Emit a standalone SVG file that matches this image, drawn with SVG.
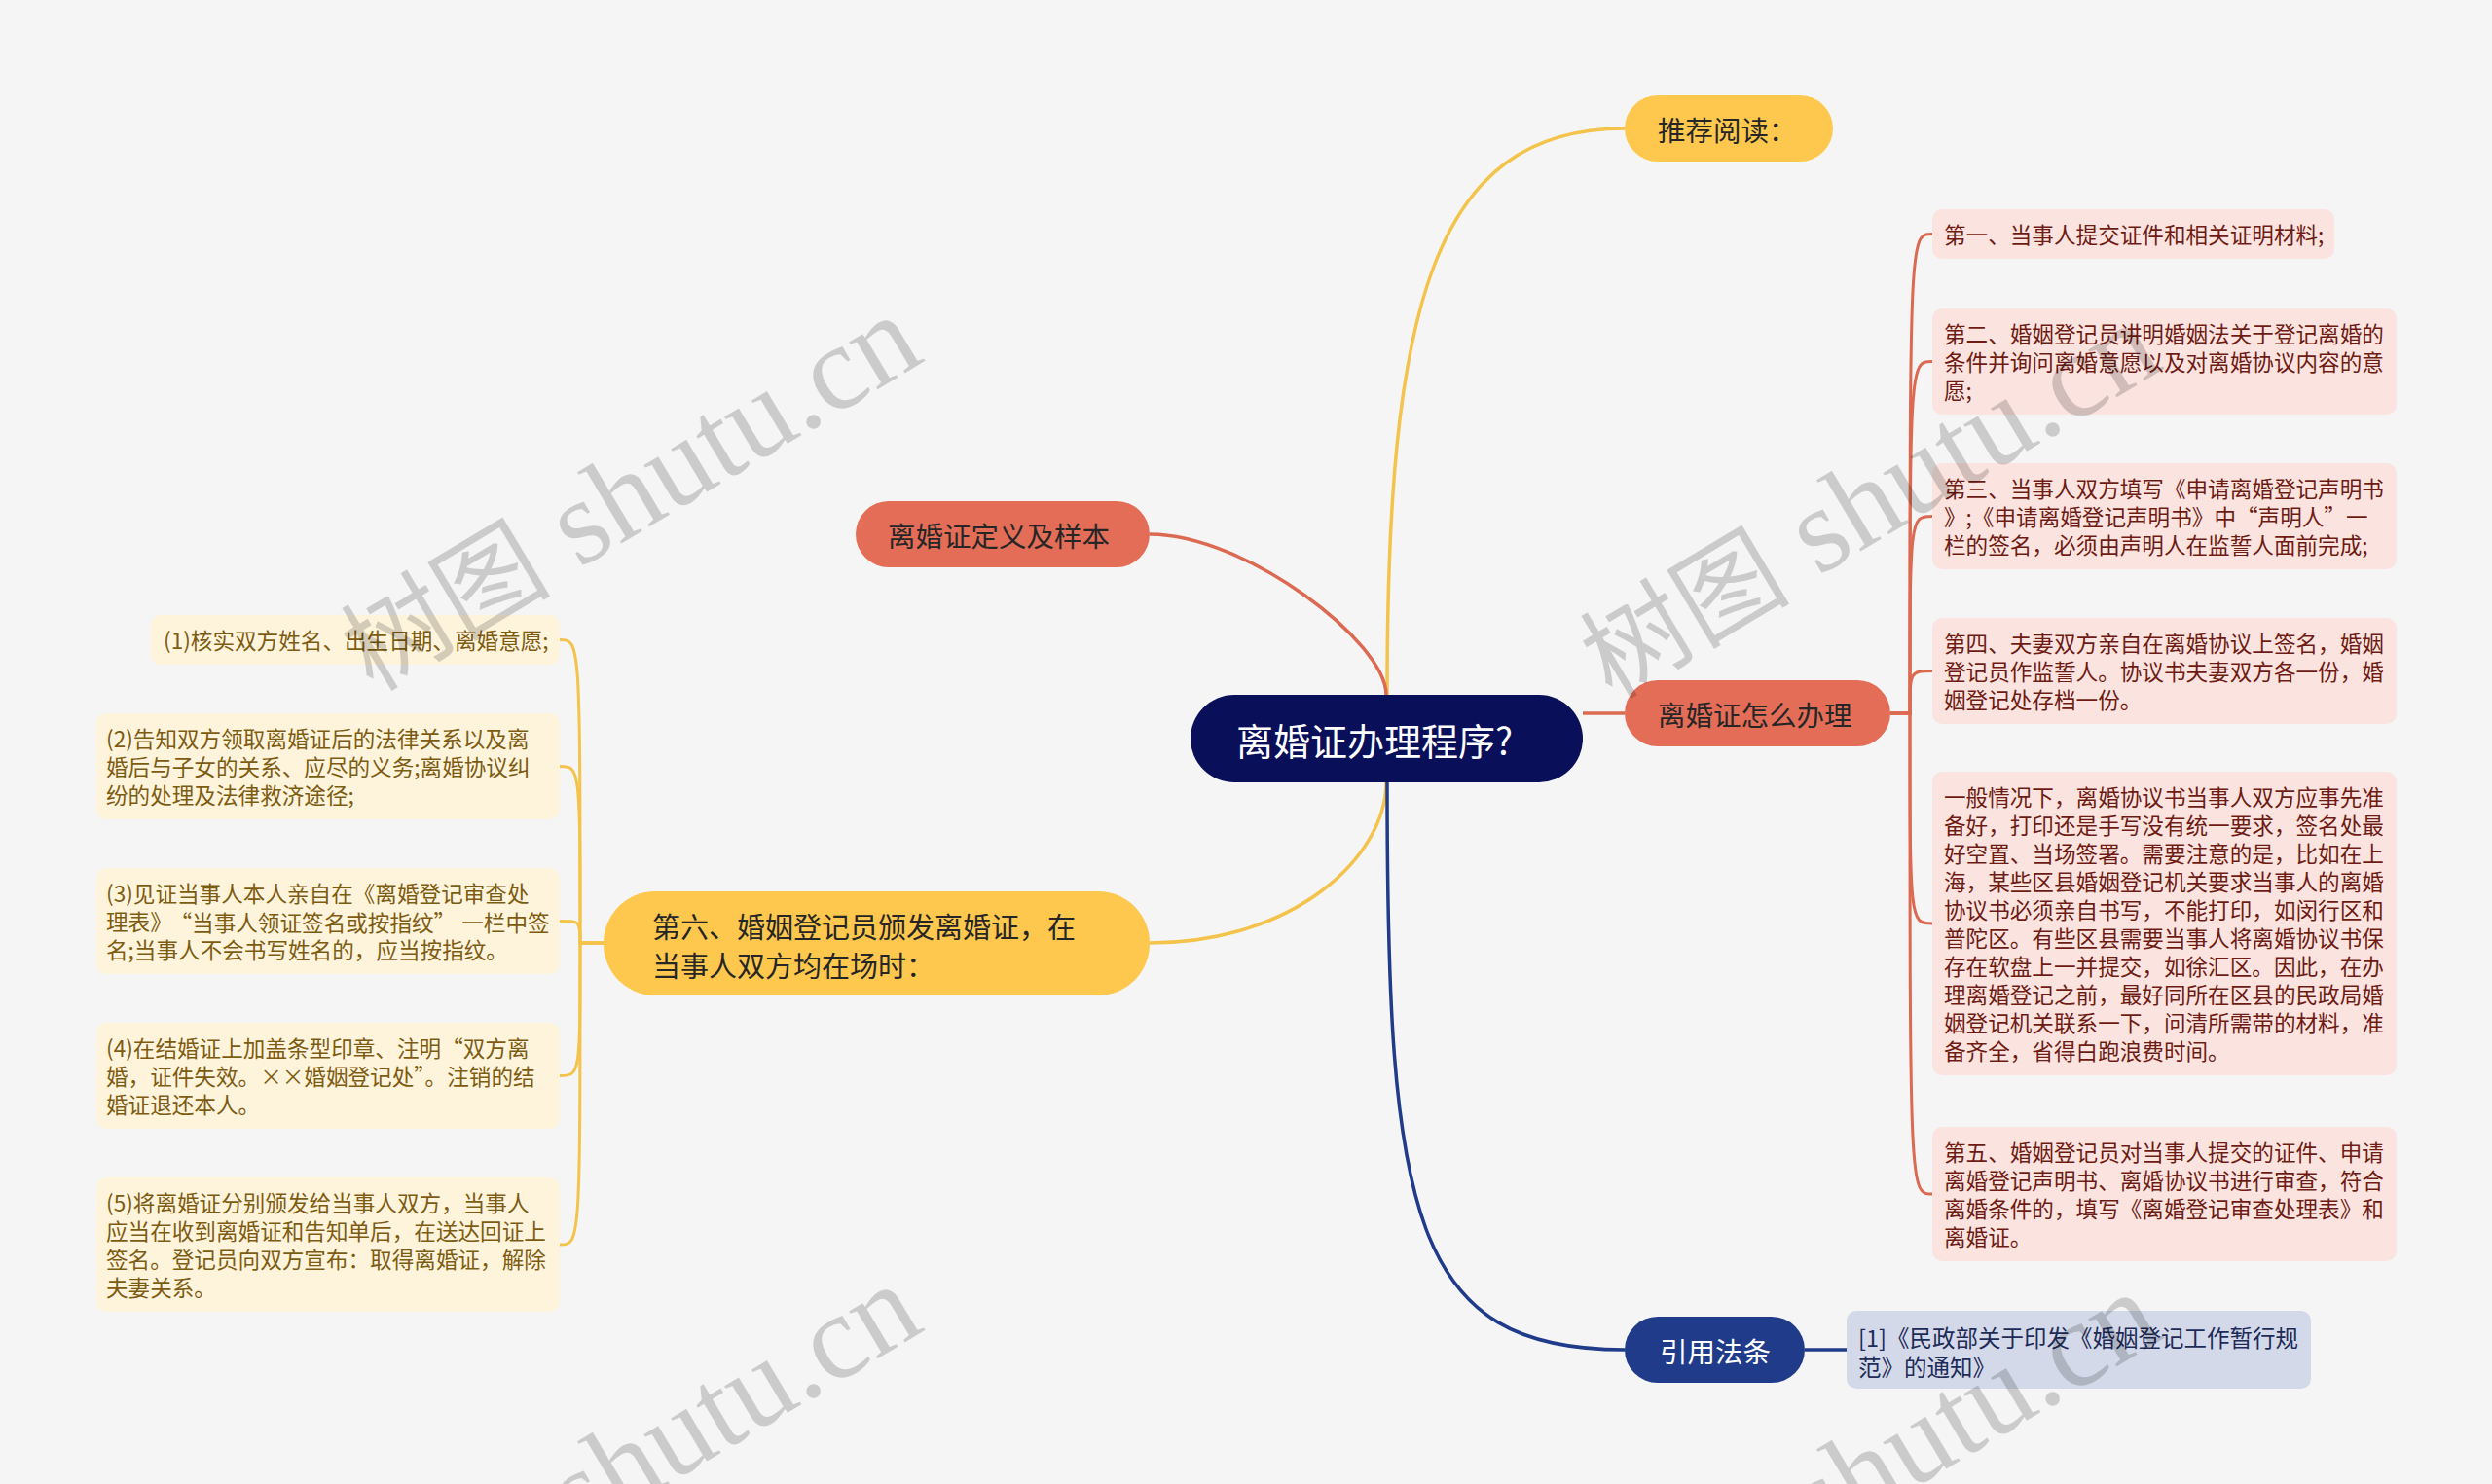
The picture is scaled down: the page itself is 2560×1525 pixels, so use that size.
<svg xmlns="http://www.w3.org/2000/svg" width="2560" height="1525" viewBox="0 0 2560 1525">
<style>
text{font-family:"Noto Sans CJK SC","Liberation Sans",sans-serif;dominant-baseline:central}
.pill-y{fill:#fdc84d}
.pill-r{fill:#e36d57}
.pill-b{fill:#1f3b8a}
.pt{font-size:28.5px;fill:#262626}
.leaf-r{fill:#fbe4df}
.lt-r{font-size:22.6px;fill:#6e1b14}
.leaf-y{fill:#fef4dc}
.lt-y{font-size:22.6px;fill:#7d5c12}
.c-y{fill:none;stroke:#f4c34b;stroke-width:3.5}
.c-r{fill:none;stroke:#dc6a52;stroke-width:3.5}
.c-b{fill:none;stroke:#1f3b8a;stroke-width:3.5}
.l-r{fill:none;stroke:#dc6a52;stroke-width:3}
.l-y{fill:none;stroke:#f4c34b;stroke-width:3}
.wm{font-family:"Liberation Serif","Noto Sans CJK SC",serif;fill:#000;fill-opacity:0.17;dominant-baseline:alphabetic}
.wc{font-size:108px}
.wl{font-size:124px}
</style>
<rect x="0" y="0" width="2560" height="1525" fill="#f5f5f5"/>

<g id="connectors">
  <path class="c-y" d="M1425 714 C1425 320 1470 132 1669 132"/>
  <path class="c-r" d="M1181 549 C1280 549 1424 660 1424 714"/>
  <path class="c-y" d="M1424 804 C1424 880 1330 969 1181 969"/>
  <path class="c-b" d="M1425 804 C1425 1250 1450 1387 1669 1387"/>
  <path class="c-r" d="M1626 733 L1669 733"/>
  <path class="c-b" d="M1854 1387 L1897 1387"/>
  <path class="l-r" d="M1942 733 L1962 733 C1962 240.5 1962 240.5 1985 240.5"/>
  <path class="l-r" d="M1942 733 L1962 733 C1962 371.5 1962 371.5 1985 371.5"/>
  <path class="l-r" d="M1942 733 L1962 733 C1962 530.5 1962 530.5 1985 530.5"/>
  <path class="l-r" d="M1942 733 L1962 733 C1962 689.5 1962 689.5 1985 689.5"/>
  <path class="l-r" d="M1942 733 L1962 733 C1962 949 1962 949 1985 949"/>
  <path class="l-r" d="M1942 733 L1962 733 C1962 1227 1962 1227 1985 1227"/>
  <path class="l-y" d="M620 969 L596 969 C596 657.5 596 657.5 575 657.5"/>
  <path class="l-y" d="M620 969 L596 969 C596 787.5 596 787.5 575 787.5"/>
  <path class="l-y" d="M620 969 L596 969 C596 946.5 596 946.5 575 946.5"/>
  <path class="l-y" d="M620 969 L596 969 C596 1105.5 596 1105.5 575 1105.5"/>
  <path class="l-y" d="M620 969 L596 969 C596 1279 596 1279 575 1279"/>
</g>

<g id="root">
  <rect x="1223" y="714" width="403" height="90" rx="45" fill="#0a0f59"/>
  <text x="1270" y="759" font-size="38" fill="#ffffff">离婚证办理程序?</text>
</g>

<g id="n-tuijian">
  <rect class="pill-y" x="1669" y="98" width="214" height="68" rx="34"/>
  <text class="pt" x="1703" y="132">推荐阅读：</text>
</g>

<g id="n-banli">
  <rect class="pill-r" x="1669" y="699" width="273" height="68" rx="34"/>
  <text class="pt" x="1703" y="733">离婚证怎么办理</text>
</g>

<g id="n-yinyong">
  <rect class="pill-b" x="1669" y="1353" width="185" height="68" rx="34"/>
  <text class="pt" x="1705" y="1387" style="fill:#ffffff">引用法条</text>
</g>

<g id="n-yinyong-ref">
  <rect x="1897" y="1347" width="477" height="80" rx="10" fill="#d3d9e8"/>
  <text x="1909" y="1374" font-size="23.5" fill="#1d2b58">[1]《民政部关于印发《婚姻登记工作暂行规</text>
  <text x="1909" y="1404" font-size="23.5" fill="#1d2b58">范》的通知》</text>
</g>

<g id="n-dingyi">
  <rect class="pill-r" x="879" y="515" width="302" height="68" rx="34"/>
  <text class="pt" x="912" y="549">离婚证定义及样本</text>
</g>

<g id="n-diliu">
  <rect class="pill-y" x="620" y="916" width="561" height="107" rx="53"/>
  <text x="670" y="951" font-size="29" fill="#262626">第六、婚姻登记员颁发离婚证，在</text>
  <text x="670" y="991" font-size="29" fill="#262626">当事人双方均在场时：</text>
</g>

<g id="r1">
  <rect class="leaf-r" x="1985" y="215" width="413" height="51" rx="10"/>
  <text class="lt-r" x="1997" y="240.5">第一、当事人提交证件和相关证明材料;</text>
</g>
<g id="r2">
  <rect class="leaf-r" x="1985" y="317" width="477" height="109" rx="10"/>
  <text class="lt-r" x="1997" y="342.5">第二、婚姻登记员讲明婚姻法关于登记离婚的</text>
  <text class="lt-r" x="1997" y="371.5">条件并询问离婚意愿以及对离婚协议内容的意</text>
  <text class="lt-r" x="1997" y="400.5">愿;</text>
</g>
<g id="r3">
  <rect class="leaf-r" x="1985" y="476" width="477" height="109" rx="10"/>
  <text class="lt-r" x="1997" y="501.5">第三、当事人双方填写《申请离婚登记声明书</text>
  <text class="lt-r" x="1997" y="530.5">》;《申请离婚登记声明书》中“声明人”一</text>
  <text class="lt-r" x="1997" y="559.5">栏的签名，必须由声明人在监誓人面前完成;</text>
</g>
<g id="r4">
  <rect class="leaf-r" x="1985" y="635" width="477" height="109" rx="10"/>
  <text class="lt-r" x="1997" y="660.5">第四、夫妻双方亲自在离婚协议上签名，婚姻</text>
  <text class="lt-r" x="1997" y="689.5">登记员作监誓人。协议书夫妻双方各一份，婚</text>
  <text class="lt-r" x="1997" y="718.5">姻登记处存档一份。</text>
</g>
<g id="r5">
  <rect class="leaf-r" x="1985" y="793" width="477" height="312" rx="10"/>
  <text class="lt-r" x="1997" y="818.5">一般情况下，离婚协议书当事人双方应事先准</text>
  <text class="lt-r" x="1997" y="847.5">备好，打印还是手写没有统一要求，签名处最</text>
  <text class="lt-r" x="1997" y="876.5">好空置、当场签署。需要注意的是，比如在上</text>
  <text class="lt-r" x="1997" y="905.5">海，某些区县婚姻登记机关要求当事人的离婚</text>
  <text class="lt-r" x="1997" y="934.5">协议书必须亲自书写，不能打印，如闵行区和</text>
  <text class="lt-r" x="1997" y="963.5">普陀区。有些区县需要当事人将离婚协议书保</text>
  <text class="lt-r" x="1997" y="992.5">存在软盘上一并提交，如徐汇区。因此，在办</text>
  <text class="lt-r" x="1997" y="1021.5">理离婚登记之前，最好同所在区县的民政局婚</text>
  <text class="lt-r" x="1997" y="1050.5">姻登记机关联系一下，问清所需带的材料，准</text>
  <text class="lt-r" x="1997" y="1079.5">备齐全，省得白跑浪费时间。</text>
</g>
<g id="r6">
  <rect class="leaf-r" x="1985" y="1158" width="477" height="138" rx="10"/>
  <text class="lt-r" x="1997" y="1183.5">第五、婚姻登记员对当事人提交的证件、申请</text>
  <text class="lt-r" x="1997" y="1212.5">离婚登记声明书、离婚协议书进行审查，符合</text>
  <text class="lt-r" x="1997" y="1241.5">离婚条件的，填写《离婚登记审查处理表》和</text>
  <text class="lt-r" x="1997" y="1270.5">离婚证。</text>
</g>

<g id="l1">
  <rect class="leaf-y" x="155" y="632" width="420" height="51" rx="10"/>
  <text class="lt-y" x="168" y="657.5">(1)核实双方姓名、出生日期、离婚意愿;</text>
</g>
<g id="l2">
  <rect class="leaf-y" x="99" y="733" width="476" height="109" rx="10"/>
  <text class="lt-y" x="109" y="758.5">(2)告知双方领取离婚证后的法律关系以及离</text>
  <text class="lt-y" x="109" y="787.5">婚后与子女的关系、应尽的义务;离婚协议纠</text>
  <text class="lt-y" x="109" y="816.5">纷的处理及法律救济途径;</text>
</g>
<g id="l3">
  <rect class="leaf-y" x="99" y="892" width="476" height="109" rx="10"/>
  <text class="lt-y" x="109" y="917.5">(3)见证当事人本人亲自在《离婚登记审查处</text>
  <text class="lt-y" x="109" y="946.5">理表》<tspan dx="9">“当事人领证签名或按指纹”</tspan><tspan dx="6">一栏中签</tspan></text>
  <text class="lt-y" x="109" y="975.5">名;当事人不会书写姓名的，应当按指纹。</text>
</g>
<g id="l4">
  <rect class="leaf-y" x="99" y="1051" width="476" height="109" rx="10"/>
  <text class="lt-y" x="109" y="1076.5">(4)在结婚证上加盖条型印章、注明“双方离</text>
  <text class="lt-y" x="109" y="1105.5">婚，证件失效。××婚姻登记处”。注销的结</text>
  <text class="lt-y" x="109" y="1134.5">婚证退还本人。</text>
</g>
<g id="l5">
  <rect class="leaf-y" x="99" y="1210" width="476" height="138" rx="10"/>
  <text class="lt-y" x="109" y="1235.5">(5)将离婚证分别颁发给当事人双方，当事人</text>
  <text class="lt-y" x="109" y="1264.5">应当在收到离婚证和告知单后，在送达回证上</text>
  <text class="lt-y" x="109" y="1293.5">签名。登记员向双方宣布：取得离婚证，解除</text>
  <text class="lt-y" x="109" y="1322.5">夫妻关系。</text>
</g>

<g id="watermark">
  <text class="wm" text-anchor="middle" transform="translate(649 510) rotate(-31)" x="0" y="36"><tspan class="wc">树图</tspan><tspan class="wl"> shutu.cn</tspan></text>
  <text class="wm" text-anchor="middle" transform="translate(1922 518) rotate(-31)" x="0" y="36"><tspan class="wc">树图</tspan><tspan class="wl"> shutu.cn</tspan></text>
  <text class="wm" text-anchor="middle" transform="translate(649 1506) rotate(-31)" x="0" y="36"><tspan class="wc">树图</tspan><tspan class="wl"> shutu.cn</tspan></text>
  <text class="wm" text-anchor="middle" transform="translate(1922 1514) rotate(-31)" x="0" y="36"><tspan class="wc">树图</tspan><tspan class="wl"> shutu.cn</tspan></text>
</g>
</svg>
